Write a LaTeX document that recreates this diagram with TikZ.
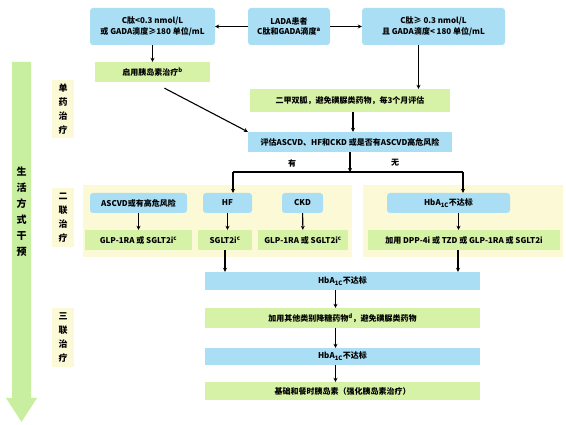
\documentclass[tikz,border=0pt]{standalone}
\usepackage{fontspec}
\setmainfont{Noto Sans CJK SC}
\usepackage{tikz}
\usetikzlibrary{arrows.meta, positioning, backgrounds, calc}
\definecolor{ladablue}{HTML}{A9DEF4}
\definecolor{ladagreen}{HTML}{D6F2A6}
\definecolor{ladayellow}{HTML}{FCF9D6}
\definecolor{ladaarrow}{HTML}{C8EFA0}

\begin{document}
\begin{tikzpicture}[
  x=1pt, y=-1pt,
  blu/.style={fill=ladablue, rounded corners=3pt, minimum height=20pt, align=center, font=\fontsize{8}{10.5}\selectfont\bfseries, inner sep=1pt},
  grn/.style={fill=ladagreen, minimum height=20pt, align=center, font=\fontsize{8}{10.5}\selectfont\bfseries, inner sep=1pt},
  band/.style={fill=ladayellow},
  vlbl/.style={fill=ladayellow, minimum width=22pt, align=center, font=\fontsize{9}{14}\selectfont\bfseries, inner sep=1pt},
  arr/.style={-{Stealth[length=4pt,width=4pt]}, line width=1.1pt, black}
]
\useasboundingbox (0,0) rectangle (566,425);

% life style arrow and stage labels
\fill[ladaarrow] (12,62) -- (31,62) -- (31,398) -- (37,398) -- (21.5,422) -- (6,398) -- (12,398) -- cycle;
\node[font=\fontsize{10}{16}\selectfont\bfseries, align=center] (life) at (21.5,212) {生\\活\\方\\式\\干\\预};
\node[vlbl, minimum height=58pt] (mono) at (63,109) {单\\药\\治\\疗};
\node[vlbl, minimum height=59pt] (dual) at (63,217.5) {二\\联\\治\\疗};
\node[vlbl, minimum height=59pt] (tri) at (63,337.5) {三\\联\\治\\疗};

% second line panels
\fill[band] (83,185) rectangle (352,257);
\fill[band] (363,185) rectangle (563,257);

% top row
\node[blu, minimum width=82pt, minimum height=37pt] (lada) at (289,26.5) {LADA患者\\C肽和GADA滴度\textsuperscript{a}};
\node[blu, minimum width=125pt, minimum height=37pt] (low) at (152.5,26.5) {C肽<0.3 nmol/L\\或 GADA滴度≥180 单位/mL};
\node[blu, minimum width=143pt, minimum height=37pt] (high) at (433.5,26.5) {C肽≥ 0.3 nmol/L\\且 GADA滴度< 180 单位/mL};

\node[grn, minimum width=115pt] (insulin) at (152.5,72) {启用胰岛素治疗\textsuperscript{b}};
\node[grn, minimum width=200pt, minimum height=23pt] (met) at (350,100.5) {二甲双胍，避免磺脲类药物，每3个月评估};
\node[blu, rounded corners=0pt, minimum width=204pt] (assess) at (350,142) {评估ASCVD、HF和CKD 或是否有ASCVD高危风险};

\node[font=\fontsize{8}{9}\selectfont\bfseries] (yes) at (292,163) {有};
\node[font=\fontsize{8}{9}\selectfont\bfseries] (no) at (395,163) {无};

% second line
\node[blu, minimum width=97pt] (ascvd) at (138.5,203) {ASCVD或有高危风险};
\node[blu, minimum width=49pt] (hf) at (227.5,203) {HF};
\node[blu, minimum width=41pt] (ckd) at (302.5,203) {CKD};
\node[blu, minimum width=123pt] (hbx) at (448.5,203) {HbA\textsubscript{1C}不达标};

\node[grn, minimum width=107pt] (ga) at (138.5,240) {GLP-1RA 或 SGLT2i\textsuperscript{c}};
\node[grn, minimum width=54pt] (gb) at (225,240) {SGLT2i\textsuperscript{c}};
\node[grn, minimum width=90pt] (gc) at (303,240) {GLP-1RA 或 SGLT2i\textsuperscript{c}};
\node[grn, minimum width=192pt] (gd) at (464,240) {加用 DPP-4i 或 TZD 或 GLP-1RA 或 SGLT2i};

% third line
\node[blu, rounded corners=0pt, minimum width=275pt, minimum height=18pt] (hba) at (342.5,281) {HbA\textsubscript{1C}不达标};
\node[grn, minimum width=275pt] (other) at (342.5,318) {加用其他类别降糖药物\textsuperscript{d}，避免磺脲类药物};
\node[blu, rounded corners=0pt, minimum width=275pt, minimum height=17pt] (hbb) at (342.5,356.5) {HbA\textsubscript{1C}不达标};
\node[grn, minimum width=275pt, minimum height=18pt] (basal) at (342.5,391) {基础和餐时胰岛素（强化胰岛素治疗）};

% connectors
\draw[arr] (lada) -- (low);
\draw[arr] (lada) -- (high);
\draw[arr] (low) -- (insulin);
\draw[arr] ([xshift=-15pt]high.south) -- ([xshift=-15pt]high.south |- met.north);
\draw[arr] ([xshift=12pt]insulin.south) ++(0,6) -- (assess.north west);
\draw[arr] ([xshift=3pt]met.south) -- ([xshift=3pt]assess.north);
\coordinate (brL) at (233,172);
\coordinate (brR) at (463,172);
\draw[arr] (assess) -- (assess.south |- brL);
\draw[line width=1.1pt] (brL) -- (brR);
\draw[arr] (brL) -- (brL |- hf.north);
\draw[arr] (brR) -- (brR |- hbx.north);
\draw[arr] (ascvd) -- (ga);
\draw[arr] (hf) -- (hf |- gb.north);
\draw[arr] (ckd) -- (gc);
\draw[arr] ([xshift=10pt]hbx.south) -- ([xshift=10pt]hbx.south |- gd.north);
\draw[arr] (gb.south) -- (gb.south |- hba.north);
\draw[arr] ([xshift=-6pt]gd.south) -- ([xshift=-6pt]gd.south |- hba.north);
\draw[arr] ([xshift=-7pt]hba.south) -- ([xshift=-7pt]other.north);
\draw[arr] ([xshift=-7pt]other.south) -- ([xshift=-7pt]hbb.north);
\draw[arr] ([xshift=-7pt]hbb.south) -- ([xshift=-7pt]basal.north);
\end{tikzpicture}
\end{document}
